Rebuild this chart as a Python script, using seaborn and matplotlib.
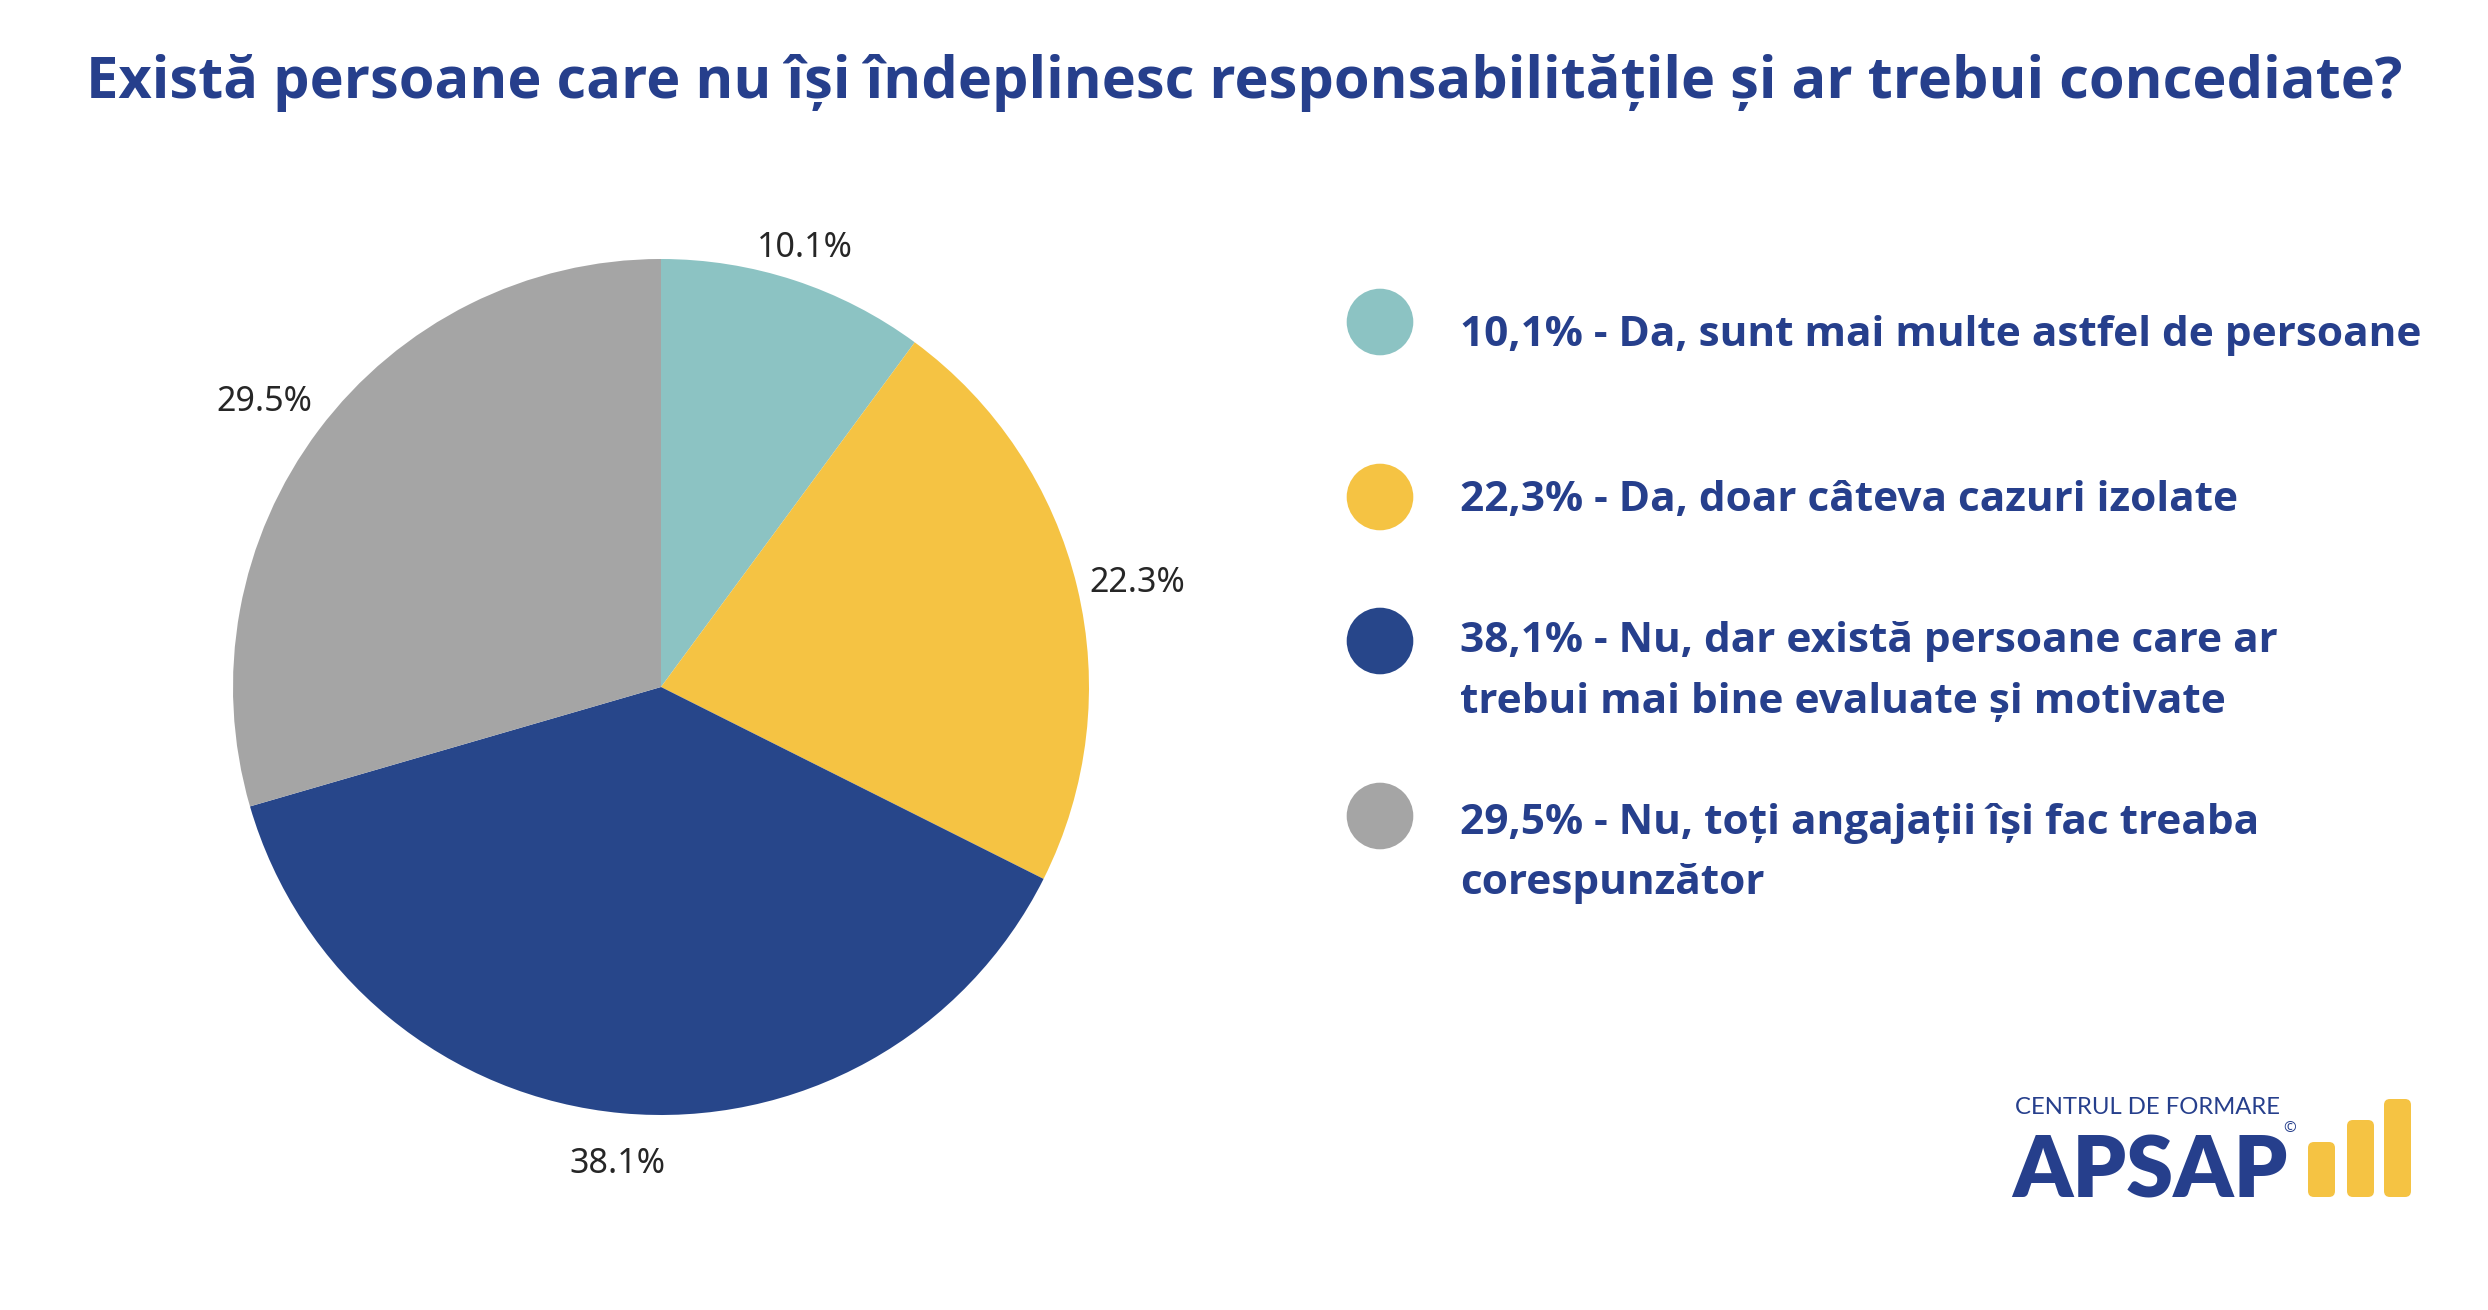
import matplotlib
matplotlib.use("Agg")
import matplotlib.pyplot as plt
import numpy as np
import seaborn as sns
from matplotlib.patches import FancyBboxPatch

# donnees du sondage
raspunsuri = ["Da, sunt mai multe astfel de persoane",
              "Da, doar câteva cazuri izolate",
              "Nu, dar există persoane care ar\ntrebui mai bine evaluate și motivate",
              "Nu, toți angajații își fac treaba\ncorespunzător"]
procente = [10.1, 22.3, 38.1, 29.5]
etichete_legenda = ["10,1%", "22,3%", "38,1%", "29,5%"]
culori = ["#8CC3C3", "#F5C343", "#27468A", "#A5A5A5"]

titlu = "Există persoane care nu își îndeplinesc responsabilitățile și ar trebui concediate?"
albastru = "#263F8C"

sns.set_theme(style="white")
plt.rcParams['font.family'] = ['Open Sans', 'DejaVu Sans']

W, H = 2488, 1310
fig = plt.figure(figsize=(W / 100, H / 100), dpi=100)
fig.patch.set_facecolor("white")

# camembert
cx, cy, r = 661, 687, 428
ax = fig.add_axes([(cx - r) / W, (H - cy - r) / H, 2 * r / W, 2 * r / H])
wedges, _, autotexts = ax.pie(procente, colors=culori, startangle=90, counterclock=False,
                              autopct='%.1f%%', pctdistance=1.12,
                              wedgeprops=dict(linewidth=0),
                              textprops=dict(color="#262626", fontsize=24.5,
                                             family=['Noto Sans', 'DejaVu Sans']))
# petits ajustements de la position des etiquettes
dist = [1.08, 1.14, 1.12, 1.14]
decal = [0, -1.2, 0, 1.2]
for w, t, d, dd in zip(wedges, autotexts, dist, decal):
    ang = np.deg2rad((w.theta1 + w.theta2) / 2 + dd)
    t.set_position((d * np.cos(ang), d * np.sin(ang)))
ax.set_xlim(-1, 1)
ax.set_ylim(-1, 1)
ax.axis('off')

# calque en pixels pour la legende et le logo
ov = fig.add_axes([0, 0, 1, 1], zorder=-1)
ov.set_xlim(0, W)
ov.set_ylim(H, 0)
ov.axis('off')

ov.text(W / 2, 83, titlu, ha='center', va='center', fontsize=41.6, fontweight='bold', color=albastru)

rand_y = [322, 497, 641, 816]
text_y = [335, 500, 642, 824]
pal = sns.color_palette(culori)
for i, (eti, rasp) in enumerate(zip(etichete_legenda, raspunsuri)):
    ov.scatter([1380], [rand_y[i]], s=2300, color=pal[i], edgecolor='none')
    linii = (eti + " - " + rasp).split("\n")
    for j, linie in enumerate(linii):
        ov.text(1460, text_y[i] + j * 60, linie, ha='left', va='center', fontsize=30.5,
                fontweight='bold', color=albastru)

# logo
ov.text(2015, 1108, "CENTRUL DE FORMARE", ha='left', va='center', fontsize=17.2, color=albastru,
        family=['Lato', 'DejaVu Sans'])
ov.text(2012, 1197, "APSAP", ha='left', va='baseline', fontsize=61, fontweight='heavy',
        color=albastru, family=['Lato', 'DejaVu Sans'])
ov.text(2290, 1128, "©", ha='center', va='center', fontsize=11, color=albastru)
for x0, y0 in [(2308, 1142), (2347, 1120), (2384, 1099)]:
    ov.add_patch(FancyBboxPatch((x0, y0), 27, 1197 - y0, boxstyle="round,pad=0,rounding_size=6",
                                color="#F5C343", linewidth=0))

fig.savefig("out.png", dpi=100, facecolor="white")
